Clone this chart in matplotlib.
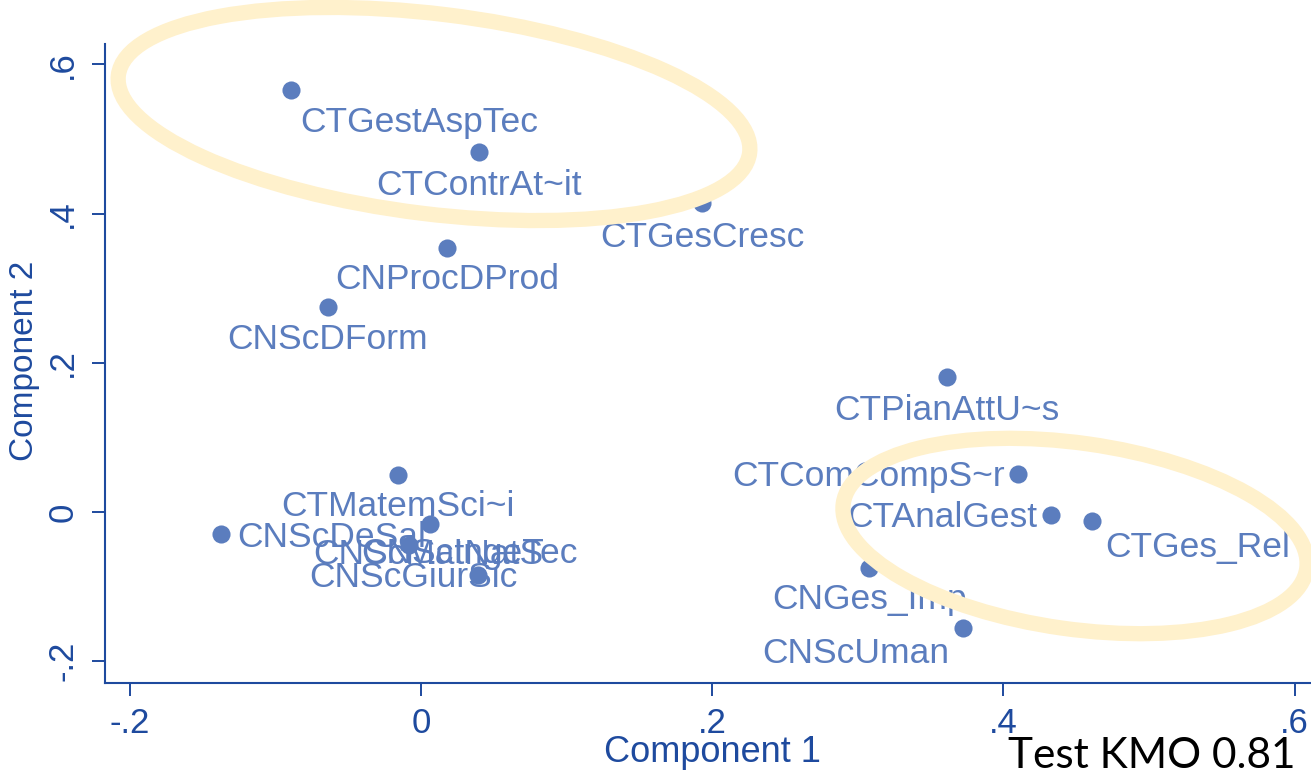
import matplotlib
matplotlib.use("Agg")
import matplotlib.pyplot as plt
from matplotlib.patches import Ellipse
from matplotlib.transforms import IdentityTransform

# ---- data ----
labels = ["CTGestAspTec", "CTContrAt~it", "CTGesCresc", "CNProcDProd", "CNScDForm",
          "CTPianAttU~s", "CTComCompS~r", "CTAnalGest", "CTGes_Rel", "CNGes_Imp",
          "CNScUman", "CTMatemSci~i", "CNScDeSal", "CNScMatNatS", "CNScGiurSic",
          "CNScIngeTec"]
comp1 = [-0.089, 0.040, 0.193, 0.018, -0.064, 0.361, 0.410, 0.433, 0.461, 0.308,
         0.372, -0.016, -0.137, 0.006, -0.008, 0.039]
comp2 = [0.566, 0.483, 0.414, 0.354, 0.275, 0.181, 0.051, -0.004, -0.012, -0.075,
         -0.155, 0.050, -0.030, -0.016, -0.044, -0.085]
tick_vals = [-0.2, 0.0, 0.2, 0.4, 0.6]
tick_labels = ["-.2", "0", ".2", ".4", ".6"]

# label placement style (ha, dx px, dy px downward)
label_pos = [("left", 9, 33), ("center", 0, 34), ("center", 0, 34), ("center", 0, 32),
             ("center", 0, 33), ("center", 0, 34), ("right", -13, 3), ("right", -14, 3),
             ("left", 13, 27), ("center", 0, 32), ("right", -13, 26), ("center", 0, 32),
             ("left", 16, 3), ("center", -1, 31), ("center", 4, 33), ("center", -8, -22)]

W, H = 1311, 774
DPI = 100
plt.rcParams['font.family'] = ['Liberation Sans', 'DejaVu Sans']

fig = plt.figure(figsize=(W / DPI, H / DPI), dpi=DPI)
ax = fig.add_axes([105 / W, 91 / H, (W - 105) / W, (683 - 44) / H])

dark = "#1E4A9E"
mcol = "#5B7DBE"

ax.scatter(comp1, comp2, s=170, color=mcol, zorder=3, linewidths=0)
for lab, x, y, (ha, dx, dy) in zip(labels, comp1, comp2, label_pos):
    ax.annotate(lab, (x, y), xytext=(dx * 0.72, -dy * 0.72), textcoords="offset points",
                ha=ha, va="center", fontsize=25.5, color=mcol, zorder=4)

ax.set_xlim(-0.217, 0.6113)
ax.set_ylim(-0.2292, 0.6273)
ax.set_xticks(tick_vals)
ax.set_xticklabels(tick_labels)
ax.set_yticks(tick_vals)
ax.set_yticklabels(tick_labels, rotation=90, va="center")
ax.tick_params(axis="both", colors=dark, labelsize=25, length=9.5, width=1.4, direction="out")
ax.tick_params(axis="x", pad=8)
ax.tick_params(axis="y", pad=9)
for s in ["top", "right"]:
    ax.spines[s].set_visible(False)
for s in ["left", "bottom"]:
    ax.spines[s].set_color(dark)
    ax.spines[s].set_linewidth(1.5)

fig.text(712 / W, 1 - 752 / H, "Component 1", ha="center", va="center", fontsize=26, color=dark)
fig.text(25 / W, 1 - 361 / H, "Component 2", ha="center", va="center", rotation=90,
         fontsize=24, color=dark)

# highlight ellipses (overlay, in pixel coordinates)
ell_col = "#FFF1CC"
for cx, cy, a, b, ang in [(434, 114, 636, 200, -7), (1075, 536, 468, 186, -8)]:
    e = Ellipse((cx, H - cy), a, b, angle=ang, fill=False, edgecolor=ell_col,
                linewidth=11, transform=IdentityTransform(), zorder=10)
    e.set_clip_on(False)
    fig.add_artist(e)

fig.text(1008 / W, 6 / H, "Test KMO 0.81", ha="left", va="baseline", fontsize=30.5,
         color="black", family=["Lato", "DejaVu Sans"], zorder=11)

fig.savefig("out.png", dpi=DPI)
